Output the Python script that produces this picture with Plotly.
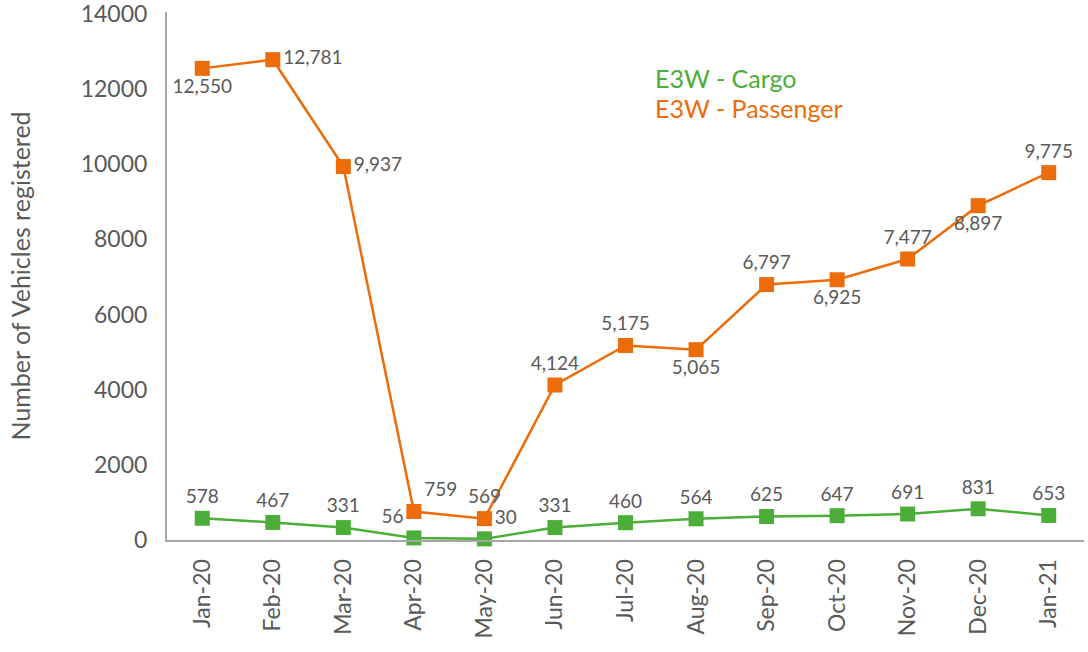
import plotly.graph_objects as go

months = ["Jan-20", "Feb-20", "Mar-20", "Apr-20", "May-20", "Jun-20", "Jul-20",
          "Aug-20", "Sep-20", "Oct-20", "Nov-20", "Dec-20", "Jan-21"]
cargo = [578, 467, 331, 56, 30, 331, 460, 564, 625, 647, 691, 831, 653]
passenger = [12550, 12781, 9937, 759, 569, 4124, 5175, 5065, 6797, 6925, 7477, 8897, 9775]
y_ticks = [0, 2000, 4000, 6000, 8000, 10000, 12000, 14000]

GREEN = "#4cae38"
ORANGE = "#ed6c0a"
GRAY = "#595959"
FONT = "Lato, sans-serif"

cargo_pos = ["top center", "top center", "top center", "top left", "top right",
             "top center", "top center", "top center", "top center", "top center",
             "top center", "top center", "top center"]
pass_pos = ["bottom center", "middle right", "middle right", "top right", "top center",
            "top center", "top center", "bottom center", "top center", "bottom center",
            "top center", "bottom center", "top center"]

L, R, T, B = 167, 4, 12, 112
PW, PH = 1088 - L - R, 652 - T - B

fig = go.Figure()
fig.add_trace(go.Scatter(
    x=months, y=cargo, mode="lines+markers+text", name="E3W - Cargo",
    line=dict(color=GREEN, width=2.5),
    marker=dict(symbol="square", size=15, color=GREEN),
    text=[f"{v:,}" for v in cargo], textposition=cargo_pos,
    textfont=dict(family=FONT, size=19, color=GRAY),
    cliponaxis=False,
))
fig.add_trace(go.Scatter(
    x=months, y=passenger, mode="lines+markers+text", name="E3W - Passenger",
    line=dict(color=ORANGE, width=2.5),
    marker=dict(symbol="square", size=15, color=ORANGE),
    text=[f"{v:,}" for v in passenger], textposition=pass_pos,
    textfont=dict(family=FONT, size=19, color=GRAY),
    cliponaxis=False,
))

fig.add_annotation(xref="paper", yref="paper", x=(655 - L) / PW, y=1 - (78 - T) / PH,
                   text="E3W - Cargo", showarrow=False, xanchor="left", yanchor="middle",
                   xshift=-2, font=dict(family=FONT, size=25, color=GREEN))
fig.add_annotation(xref="paper", yref="paper", x=(655 - L) / PW, y=1 - (108 - T) / PH,
                   text="E3W - Passenger", showarrow=False, xanchor="left", yanchor="middle",
                   xshift=-2, font=dict(family=FONT, size=25, color=ORANGE))

fig.update_layout(
    width=1088, height=652,
    margin=dict(l=L, r=R, t=T, b=B, autoexpand=False),
    paper_bgcolor="white", plot_bgcolor="white",
    showlegend=False,
    font=dict(family=FONT, color=GRAY),
    xaxis=dict(
        range=[-0.5, 12.5], showgrid=False, showline=True, linecolor="#a6a6a6", linewidth=2,
        tickangle=-90, tickfont=dict(family=FONT, size=23, color=GRAY), ticks="",
        ticklabelstandoff=8, zeroline=False, automargin=False,
    ),
    yaxis=dict(
        range=[0, 14050], showgrid=False, showline=True, linecolor="#a6a6a6", linewidth=2,
        tickvals=y_ticks, ticktext=[str(v) for v in y_ticks],
        tickfont=dict(family=FONT, size=23, color=GRAY), ticks="", ticklabelstandoff=13,
        ticklabeloverflow="allow",
        zeroline=False, automargin=False,
        title=dict(text="Number of Vehicles registered",
                   font=dict(family=FONT, size=25, color=GRAY), standoff=43),
    ),
)

fig.write_html("out.html", config={"displayModeBar": False},
               post_script="document.body.style.margin='0';document.body.style.overflow='hidden';")
